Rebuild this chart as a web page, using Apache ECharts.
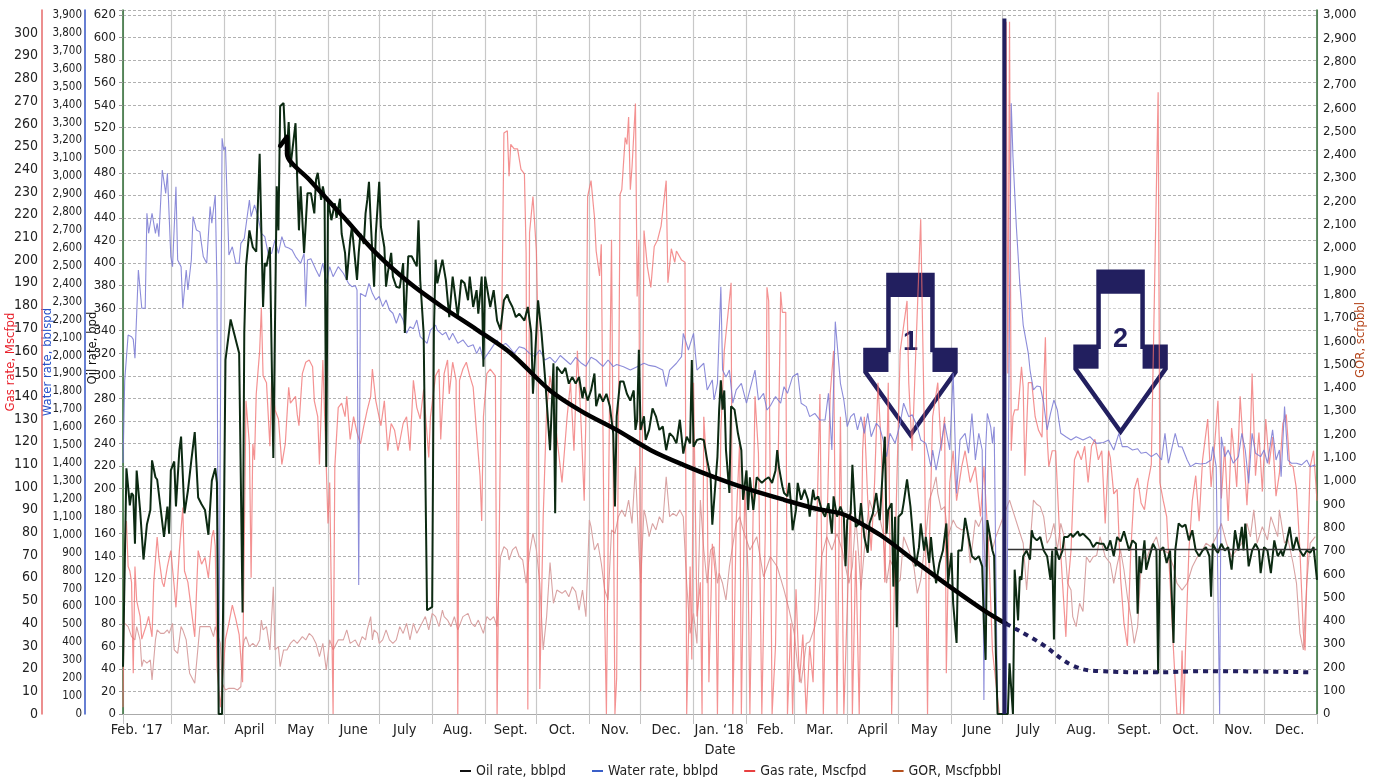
<!DOCTYPE html>
<html><head><meta charset="utf-8">
<script src="https://cdn.jsdelivr.net/npm/echarts/dist/echarts.min.js"></script>
<style>html,body{margin:0;padding:0;background:#fff}#c{width:1377px;height:777px}</style>
</head><body><div id="c"></div><script>
const FONT = "'Liberation Sans Narrow','DejaVu Sans Condensed',sans-serif";
const NAVY = '#221f5f';

// x categories: one per day from 1 Feb 2017 (index 0) to 1 Jan 2019 (index 699)
const monthLabels = ['Feb. \u201817','Mar.','April','May','June','July','Aug.','Sept.','Oct.','Nov.','Dec.',
  'Jan. \u201818','Feb.','Mar.','April','May','June','July','Aug.','Sept.','Oct.','Nov.','Dec.'];

// axis tick values
const oilTicks = {min:0, top:620, step:20};
const waterTicks = {min:0, top:3900, step:100};
const gasTicks = {min:0, top:308, lastLabel:300, step:10};
const gorTicks = {min:0, top:3000, step:100};

// [day index, value]
const oilRate = [[0,42],[2,218],[4,185],[5,196],[6,194],[7,151],[8,216],[10,181],[12,137],[14,168],[16,181],[17,225],[19,210],[20,208],[21,207],[24,157],[26,184],[27,160],[28,216],[30,224],[31,184],[33,234],[34,246],[36,178],[38,198],[40,225],[42,250],[44,192],[46,186],[48,181],[50,159],[52,207],[54,218],[55,205],[56,0],[58,0],[60,314],[63,350],[65,338],[67,326],[68,320],[70,90],[71,338],[72,397],[74,429],[76,414],[78,410],[80,497],[82,361],[83,400],[84,397],[86,414],[88,227],[90,468],[91,429],[92,539],[93,538],[94,542],[95,509],[96,500],[97,525],[98,485],[101,524],[102,474],[103,429],[104,468],[106,409],[108,462],[110,462],[112,444],[113,474],[114,480],[116,456],[117,468],[118,460],[119,219],[120,456],[122,438],[124,453],[125,440],[127,457],[128,426],[130,409],[131,385],[133,420],[134,432],[137,385],[138,409],[139,426],[141,417],[142,444],[143,456],[144,472],[145,438],[147,379],[148,426],[150,472],[151,432],[153,414],[154,379],[155,391],[157,409],[158,388],[160,379],[162,378],[164,400],[165,338],[167,406],[169,406],[172,397],[173,438],[174,385],[176,338],[178,92],[181,95],[182,338],[183,403],[184,382],[187,403],[189,385],[191,352],[193,388],[196,352],[198,385],[200,382],[202,367],[203,388],[205,361],[207,376],[208,355],[210,388],[211,308],[212,388],[215,361],[217,376],[219,349],[221,341],[223,367],[225,372],[226,367],[228,361],[230,352],[232,355],[235,349],[237,361],[239,338],[240,284],[243,367],[245,338],[247,300],[250,234],[252,311],[253,178],[254,308],[257,302],[259,307],[261,293],[263,299],[265,293],[267,299],[269,280],[270,290],[272,278],[274,287],[276,302],[277,273],[279,284],[281,277],[283,284],[285,273],[287,249],[288,184],[289,264],[291,295],[293,295],[295,284],[297,278],[299,287],[300,252],[301,261],[302,323],[303,252],[305,264],[306,243],[308,252],[310,271],[312,264],[314,252],[316,255],[318,234],[320,249],[322,246],[324,240],[326,261],[328,231],[330,246],[332,240],[333,314],[334,237],[336,243],[338,244],[340,243],[342,225],[344,210],[345,168],[347,208],[348,228],[349,270],[350,296],[351,270],[352,287],[353,234],[355,196],[356,273],[358,270],[360,249],[362,234],[363,190],[365,216],[366,181],[367,210],[369,181],[371,210],[374,205],[376,208],[378,210],[380,205],[382,216],[383,234],[384,219],[386,202],[387,196],[389,193],[390,205],[391,187],[392,163],[394,181],[395,205],[397,190],[399,199],[401,190],[402,175],[404,199],[405,190],[407,193],[409,181],[411,175],[413,187],[415,160],[416,193],[418,175],[420,184],[422,175],[423,131],[424,172],[426,178],[427,221],[429,166],[431,169],[432,187],[434,157],[436,143],[437,169],[439,178],[441,196],[443,172],[444,196],[446,246],[447,160],[448,181],[450,187],[451,113],[452,175],[453,77],[454,175],[456,178],[457,187],[459,208],[461,184],[463,148],[464,131],[466,148],[467,169],[469,145],[470,157],[472,134],[473,157],[474,140],[476,116],[478,134],[480,145],[482,169],[483,116],[485,143],[486,98],[488,63],[489,145],[491,145],[493,174],[495,157],[497,140],[499,137],[501,140],[503,131],[504,80],[505,48],[506,172],[507,172],[509,145],[510,140],[511,54],[512,0],[518,0],[519,45],[521,0],[522,128],[524,83],[525,122],[526,119],[527,140],[529,145],[531,137],[532,163],[533,157],[535,154],[537,157],[539,145],[541,140],[543,119],[544,145],[545,66],[546,148],[548,137],[550,145],[551,157],[553,157],[555,160],[556,157],[559,162],[560,158],[562,160],[564,157],[566,154],[568,148],[570,152],[572,151],[574,151],[576,145],[578,154],[580,140],[582,157],[584,153],[586,162],[587,163],[589,145],[591,154],[593,151],[594,89],[595,140],[596,125],[598,154],[599,128],[601,140],[603,151],[605,145],[606,36],[607,145],[609,148],[611,134],[613,145],[615,63],[616,145],[618,169],[620,166],[622,168],[624,154],[626,163],[628,145],[630,140],[632,145],[634,148],[636,140],[637,104],[638,151],[640,145],[641,143],[643,151],[645,145],[647,148],[649,128],[651,163],[653,145],[655,166],[656,145],[657,169],[659,131],[661,145],[663,151],[665,145],[666,125],[668,148],[670,145],[672,125],[674,154],[676,140],[678,145],[679,140],[681,151],[683,166],[685,145],[687,157],[689,145],[691,140],[693,145],[695,143],[697,148],[699,119]];

const waterRate = [[0,1400],[1,1860],[3,2115],[5,2105],[6,2090],[7,1985],[9,2477],[11,2264],[13,2264],[14,2794],[15,2682],[17,2794],[19,2682],[20,2738],[21,2663],[23,3035],[25,2905],[26,3017],[28,2552],[29,2496],[31,2942],[32,2533],[34,2496],[35,2264],[37,2477],[38,2366],[40,2533],[41,2775],[43,2700],[45,2690],[47,2552],[49,2515],[51,2831],[52,2738],[54,2896],[55,2400],[56,0],[57,0],[58,3212],[59,3147],[60,3165],[62,2561],[64,2607],[66,2515],[68,2515],[69,2626],[71,2654],[72,2645],[74,2868],[75,2775],[77,2840],[79,2775],[81,2682],[83,2663],[85,2570],[87,2570],[89,2645],[91,2570],[93,2663],[95,2607],[97,2600],[99,2589],[101,2552],[102,2552],[104,2515],[106,2570],[107,2273],[108,2533],[110,2540],[113,2477],[115,2440],[117,2515],[119,2403],[121,2496],[123,2440],[126,2496],[129,2459],[132,2403],[134,2384],[136,2390],[137,2366],[138,720],[139,2347],[142,2329],[144,2403],[146,2347],[148,2310],[150,2330],[152,2273],[154,2310],[156,2254],[158,2236],[160,2180],[162,2236],[164,2198],[166,2124],[168,2161],[170,2150],[172,2198],[174,2105],[176,2087],[178,2068],[180,2142],[183,2170],[184,2142],[187,2115],[189,2130],[191,2087],[193,2124],[196,2068],[199,2087],[202,2049],[205,2060],[207,2012],[209,2049],[211,1975],[215,2030],[219,2087],[221,2050],[224,2068],[226,2049],[229,2012],[232,2049],[235,2040],[238,2012],[241,1994],[244,2031],[247,1975],[250,1990],[253,1960],[256,2000],[259,1975],[262,1950],[265,1990],[268,1960],[271,1940],[274,1990],[277,1975],[279,1957],[281,1940],[284,1975],[287,1938],[289,1950],[293,1938],[297,1919],[301,1938],[305,1957],[308,1945],[312,1938],[316,1919],[318,1826],[320,1919],[324,1957],[327,1994],[328,2124],[331,2031],[334,2124],[336,1919],[340,1957],[342,1808],[345,1864],[346,1752],[348,1845],[350,2384],[351,1919],[353,1880],[355,1919],[357,1734],[359,1808],[362,1845],[365,1734],[367,1808],[370,1919],[372,1752],[375,1789],[377,1696],[379,1720],[382,1771],[385,1734],[387,1826],[389,1789],[392,1882],[395,1901],[397,1734],[400,1715],[402,1659],[405,1677],[408,1640],[411,1640],[413,1789],[415,1473],[417,2189],[420,1845],[422,1752],[424,1603],[426,1659],[428,1677],[430,1585],[432,1659],[434,1566],[436,1677],[438,1547],[441,1622],[443,1600],[445,1529],[447,1436],[449,1566],[452,1510],[455,1622],[457,1734],[460,1659],[462,1670],[465,1603],[467,1529],[470,1510],[473,1380],[474,1473],[476,1361],[479,1510],[481,1622],[484,1473],[486,1901],[488,1231],[490,1529],[493,1566],[495,1455],[497,1677],[499,1417],[501,1566],[503,1473],[504,78],[505,1473],[506,1677],[508,1600],[509,1510],[510,1603],[512,0],[517,0],[520,3407],[521,3110],[523,2719],[525,2403],[527,2170],[530,2012],[531,1919],[533,1808],[535,1830],[537,1826],[539,1734],[541,1585],[543,1677],[545,1752],[547,1696],[549,1566],[552,1547],[555,1529],[558,1547],[562,1529],[566,1547],[570,1510],[574,1515],[577,1529],[580,1473],[583,1566],[585,1492],[588,1492],[591,1473],[594,1480],[596,1455],[599,1460],[602,1436],[605,1455],[608,1417],[610,1566],[612,1399],[616,1566],[618,1492],[620,1490],[623,1417],[625,1380],[628,1399],[631,1395],[634,1399],[637,1417],[638,1492],[640,1380],[642,0],[643,1547],[645,1436],[647,1473],[650,1399],[653,1436],[655,1566],[657,1473],[659,1287],[661,1566],[663,1455],[666,1436],[668,1473],[670,1399],[673,1585],[675,1417],[677,1473],[678,1324],[680,1715],[682,1417],[684,1399],[687,1399],[690,1390],[693,1417],[695,1380],[698,1390]];

const gasRate = [[0,3],[1,74],[2,85],[3,65],[4,63],[5,58],[6,18],[7,65],[8,50],[10,43],[11,33],[14,40],[15,43],[17,34],[18,58],[20,78],[21,69],[23,58],[24,56],[26,65],[28,72],[30,56],[31,47],[33,72],[35,91],[36,63],[38,58],[40,46],[42,34],[44,72],[46,66],[48,69],[50,60],[52,78],[53,81],[54,74],[55,21],[57,3],[60,33],[62,40],[64,48],[66,42],[68,35],[70,14],[72,138],[74,119],[75,60],[76,119],[77,112],[78,141],[80,160],[81,179],[82,149],[84,146],[86,118],[87,147],[89,134],[91,130],[93,110],[95,119],[97,144],[98,137],[101,140],[102,132],[103,127],[105,150],[107,155],[109,156],[111,153],[112,138],[114,131],[115,110],[117,156],[119,109],[120,84],[121,102],[123,0],[124,109],[126,135],[128,137],[130,131],[131,140],[133,121],[135,131],[137,124],[139,119],[141,127],[143,134],[145,140],[146,152],[148,138],[151,127],[153,138],[155,116],[157,128],[159,125],[161,116],[164,128],[166,131],[168,116],[170,147],[172,135],[174,130],[176,143],[179,113],[180,131],[183,149],[185,152],[186,121],[188,150],[190,156],[191,141],[193,155],[195,147],[196,0],[197,147],[199,152],[201,155],[203,149],[205,144],[207,124],[209,105],[210,85],[211,131],[213,150],[215,152],[218,149],[219,0],[221,124],[223,256],[225,257],[226,237],[227,251],[229,249],[231,249],[233,240],[235,238],[236,203],[237,2],[238,212],[240,228],[242,204],[243,168],[244,11],[246,87],[248,134],[250,149],[252,138],[254,122],[257,102],[260,131],[262,146],[264,116],[266,160],[268,131],[270,94],[271,131],[272,228],[274,235],[276,219],[277,204],[279,193],[280,207],[282,43],[283,0],[285,150],[286,209],[288,0],[289,16],[291,229],[292,231],[294,254],[295,251],[296,263],[297,231],[298,241],[300,269],[301,184],[302,209],[303,10],[305,213],[307,197],[309,188],[311,206],[313,209],[315,215],[318,235],[319,190],[321,205],[323,199],[324,204],[327,200],[329,199],[330,0],[332,65],[333,24],[334,146],[336,43],[338,58],[339,0],[340,131],[342,105],[343,14],[345,75],[347,60],[348,0],[350,125],[352,160],[356,190],[357,0],[359,85],[361,120],[362,0],[364,100],[366,60],[367,0],[370,140],[372,115],[374,0],[376,80],[377,188],[378,182],[380,0],[382,30],[385,186],[386,177],[388,177],[389,0],[391,40],[392,0],[394,55],[396,14],[398,35],[400,0],[402,30],[404,14],[408,141],[410,0],[412,78],[414,141],[416,160],[418,0],[420,131],[422,0],[426,94],[427,0],[429,72],[431,0],[433,116],[434,131],[436,94],[438,72],[440,102],[442,146],[444,116],[446,58],[448,146],[450,0],[452,72],[455,160],[459,182],[460,146],[462,116],[467,218],[469,131],[471,0],[472,72],[474,131],[477,146],[479,116],[481,131],[482,18],[484,102],[486,116],[488,94],[491,109],[493,116],[496,102],[499,109],[502,87],[504,109],[507,69],[509,28],[511,14],[513,0],[516,0],[517,305],[518,150],[519,305],[520,116],[521,131],[522,134],[524,134],[526,153],[527,144],[528,105],[530,146],[532,146],[534,131],[536,125],[538,122],[540,166],[541,122],[542,109],[544,116],[546,116],[548,84],[550,58],[552,34],[553,55],[555,72],[557,112],[559,116],[561,112],[563,118],[565,102],[567,118],[569,121],[571,112],[573,116],[575,84],[577,116],[578,113],[580,97],[582,99],[584,60],[586,40],[588,30],[590,72],[592,99],[594,104],[596,93],[598,90],[600,102],[602,110],[606,274],[607,102],[609,94],[611,87],[613,58],[615,28],[617,0],[619,0],[620,28],[621,0],[622,28],[624,72],[626,94],[628,105],[630,85],[632,112],[635,130],[637,100],[639,118],[641,138],[643,95],[645,118],[647,85],[649,126],[650,119],[652,100],[654,140],[656,116],[658,92],[660,122],[661,150],[663,105],[665,124],[667,98],[669,130],[671,110],[673,122],[675,96],[677,106],[679,128],[681,132],[683,110],[685,109],[687,99],[689,72],[691,36],[692,28],[693,58],[695,109],[697,116],[699,94]];

const gor = [[1,389],[3,375],[5,332],[7,318],[8,375],[10,318],[11,203],[12,232],[14,218],[16,232],[17,146],[19,318],[20,361],[22,346],[24,346],[26,361],[27,346],[29,389],[30,275],[32,260],[34,375],[35,361],[37,318],[39,175],[42,132],[43,124],[45,375],[47,375],[49,375],[51,375],[53,332],[54,375],[57,303],[58,132],[60,103],[62,110],[63,103],[65,110],[67,103],[69,117],[70,275],[71,318],[72,332],[74,289],[76,303],[78,289],[80,318],[81,403],[82,361],[84,375],[86,275],[88,546],[89,275],[91,289],[92,203],[94,275],[96,275],[98,303],[100,318],[102,303],[103,303],[105,332],[107,318],[109,346],[111,332],[113,303],[115,246],[117,303],[119,189],[121,318],[123,275],[126,318],[129,318],[131,361],[133,303],[136,318],[138,289],[140,332],[142,318],[143,361],[145,418],[146,318],[147,361],[149,346],[150,303],[152,318],[154,361],[156,318],[158,303],[160,318],[162,375],[164,346],[166,389],[168,318],[170,389],[172,346],[173,361],[175,389],[177,418],[179,361],[181,432],[183,418],[185,375],[187,446],[188,418],[190,403],[192,375],[194,418],[196,361],[199,418],[202,432],[204,389],[206,375],[208,403],[211,346],[213,418],[215,403],[217,418],[219,375],[221,675],[223,718],[225,704],[226,661],[228,704],[230,718],[232,675],[234,661],[236,561],[238,690],[240,775],[242,704],[244,561],[246,275],[248,418],[250,650],[252,475],[254,532],[257,518],[259,530],[261,503],[263,546],[265,525],[267,446],[269,532],[271,418],[273,833],[274,804],[276,704],[278,733],[280,647],[282,532],[284,489],[286,790],[288,775],[290,847],[292,876],[294,847],[296,918],[298,818],[300,1061],[302,704],[303,561],[305,876],[306,847],[308,761],[310,818],[312,790],[314,847],[316,820],[318,1018],[320,847],[322,861],[324,850],[326,876],[328,847],[330,561],[332,346],[334,432],[336,303],[338,918],[340,704],[342,561],[344,704],[346,718],[348,561],[349,604],[351,561],[353,489],[355,632],[359,818],[361,847],[363,790],[367,704],[371,761],[375,589],[379,675],[383,632],[387,532],[390,446],[393,346],[395,203],[397,132],[400,303],[402,310],[405,375],[407,446],[409,675],[412,761],[415,704],[418,775],[421,704],[425,561],[427,632],[429,847],[431,647],[432,532],[434,704],[437,918],[440,847],[442,876],[445,775],[447,561],[449,661],[451,632],[453,561],[455,575],[457,761],[460,704],[463,632],[465,518],[467,575],[470,761],[472,918],[474,961],[476,1018],[477,947],[479,876],[481,890],[483,761],[486,833],[488,804],[491,790],[494,804],[496,647],[499,833],[501,804],[503,847],[505,632],[507,761],[509,704],[511,761],[519,918],[527,733],[529,532],[533,918],[535,900],[537,890],[539,847],[541,733],[543,760],[545,818],[547,704],[549,818],[551,760],[553,561],[555,532],[556,418],[558,375],[560,475],[562,440],[564,675],[566,650],[568,675],[570,680],[572,761],[575,675],[578,647],[580,561],[582,640],[584,704],[586,618],[588,503],[590,418],[592,303],[594,375],[596,632],[597,675],[599,660],[601,704],[603,733],[605,761],[607,700],[609,704],[612,690],[615,632],[617,561],[620,532],[623,561],[626,632],[629,675],[632,704],[634,733],[637,718],[640,761],[643,818],[646,733],[649,675],[652,704],[655,733],[658,818],[660,760],[662,876],[664,733],[667,804],[670,747],[672,847],[676,761],[677,876],[680,733],[682,750],[685,647],[687,561],[689,346],[691,275],[693,561],[695,733],[698,761]];

// fitted decline (oil units), forecast, post-workover level, event marker
const declineFit = [[92,504],[96,512],[96,497],[109,474],[129,441],[148,409],[168,382],[187,361],[207,341],[227,320],[250,287],[269,268],[289,252],[309,234],[328,221],[348,209],[367,199],[387,190],[406,182],[420,178],[426,174],[445,157],[465,134],[484,113],[504,92],[517,80]];
const forecast = [[517,80],[537,63],[556,43],[572,38],[605,37],[635,38],[695,37]];
const postLevel = [[518,146],[699,146]];
const eventMarker = [[516,0],[516,617]];
const arrowMarks = [{day:461, oil:247.5, label:'1'},{day:584, oil:250.4, label:'2'}];

// ---- build axis helpers ----
const START = Date.UTC(2017,1,1), DAY = 86400000;
const monthStarts = [];
for (let m=0;m<=23;m++) monthStarts.push(Math.round((Date.UTC(2017,1+m,1)-START)/DAY));
const isMonthStart = new Set(monthStarts);
const labelAt = {};
monthLabels.forEach((t,i)=>{const s=monthStarts[i], e=monthStarts[i+1]; const c = i===0 ? s+8 : s+Math.floor((e-s)/2); labelAt[c]=t;});
const dayCats = Array.from({length:700},(_,i)=>String(i));

// plot: grid top is 5px above the top tick value
const PLOT_H = 704, TOPTICK_H = 699;
const ext = t => t.top*PLOT_H/TOPTICK_H;
const fmt = (t, comma) => v => { const r=Math.round(v); const last = t.lastLabel!==undefined ? t.lastLabel : t.top;
  if (Math.abs(v-r)>1e-6 || r%t.step!==0 || r>last) return ''; return comma ? r.toLocaleString('en-US') : String(r); };

const chart = echarts.init(document.getElementById('c'), null, {renderer:'canvas'});
const line = (name, data, yIdx, color, width, z, extra) => Object.assign({
  name, type:'line', data, xAxisIndex:0, yAxisIndex:yIdx, showSymbol:false, symbol:'none',
  z, lineStyle:{color, width}, itemStyle:{color}, emphasis:{disabled:true}, animation:false
}, extra||{});

chart.setOption({
  animation:false,
  backgroundColor:'#fff',
  grid:{left:123, right:60, top:10, bottom:63, containLabel:false, outerBoundsMode:'none'},
  legend:{
    data:['Oil rate, bblpd','Water rate, bblpd','Gas rate, Mscfpd','GOR, Mscfpbbl'],
    left:455, top:759, icon:'rect', itemWidth:11, itemHeight:2, itemGap:26,
    textStyle:{fontFamily:FONT, fontSize:14, color:'#222'}, selectedMode:false
  },
  xAxis:[{
    type:'category', data:dayCats, boundaryGap:false, position:'bottom',
    axisLine:{show:true, lineStyle:{color:'#999', width:1}},
    axisTick:{show:true, interval:(i)=>isMonthStart.has(i), length:10, lineStyle:{color:'#c4c4c4'}},
    splitLine:{show:true, interval:(i)=>isMonthStart.has(i), lineStyle:{color:'#c8c8c8', width:1.2}},
    axisLabel:{interval:(i)=>labelAt[i]!==undefined, formatter:(v,i)=>labelAt[i]||'', color:'#222', fontFamily:FONT, fontSize:14.5, margin:9},
    name:'Date', nameLocation:'middle', nameGap:27, nameTextStyle:{color:'#222', fontFamily:FONT, fontSize:14.5}
  },{
    type:'category', data:dayCats, boundaryGap:false, position:'top',
    axisLine:{show:true, lineStyle:{color:'#aaa', width:1}}, axisTick:{show:false}, axisLabel:{show:false}, splitLine:{show:false}
  }],
  yAxis:[{
    type:'value', position:'left', offset:0, min:oilTicks.min, max:ext(oilTicks), interval:oilTicks.step,
    axisLine:{show:true, lineStyle:{color:'#2e6b33', width:1.5}},
    axisTick:{show:true, length:4, lineStyle:{color:'#999'}},
    axisLabel:{color:'#222', fontFamily:FONT, fontSize:13, margin:7, formatter:fmt(oilTicks,false)},
    splitLine:{show:true, lineStyle:{color:'#b0b0b0', type:[3,2], width:1}},
    name:'Oil rate, bpd', nameLocation:'middle', nameGap:24, nameMoveOverlap:false,
    nameTextStyle:{color:'#111', fontFamily:FONT, fontSize:13, padding:[0,0,0,28]}
  },{
    type:'value', position:'left', offset:38, min:waterTicks.min, max:ext(waterTicks), interval:waterTicks.step,
    axisLine:{show:true, lineStyle:{color:'#3455c4', width:1.5}},
    axisTick:{show:false}, splitLine:{show:false},
    axisLabel:{color:'#222', fontFamily:FONT, fontSize:11.5, margin:3, formatter:fmt(waterTicks,true)},
    name:'Water rate, bblspd', nameLocation:'middle', nameGap:31, nameMoveOverlap:false,
    nameTextStyle:{color:'#2a52c9', fontFamily:FONT, fontSize:13}
  },{
    type:'value', position:'left', offset:81, min:gasTicks.min, max:ext(gasTicks), interval:gasTicks.step,
    axisLine:{show:true, lineStyle:{color:'#e66a6a', width:1.5}},
    axisTick:{show:false}, splitLine:{show:false},
    axisLabel:{color:'#222', fontFamily:FONT, fontSize:14, margin:4, formatter:fmt(gasTicks,false)},
    name:'Gas rate, Mscfpd', nameLocation:'middle', nameGap:25, nameMoveOverlap:false,
    nameTextStyle:{color:'#e8202a', fontFamily:FONT, fontSize:13}
  },{
    type:'value', position:'right', offset:0, min:gorTicks.min, max:ext(gorTicks), interval:gorTicks.step,
    axisLine:{show:true, lineStyle:{color:'#2e6b33', width:1.5}},
    axisTick:{show:false}, splitLine:{show:false},
    axisLabel:{color:'#222', fontFamily:FONT, fontSize:13, margin:6, formatter:fmt(gorTicks,true)},
    name:'GOR, scfpbbl', nameLocation:'middle', nameGap:37, nameMoveOverlap:false,
    nameTextStyle:{color:'#b5451b', fontFamily:FONT, fontSize:13, padding:[0,0,0,44]}
  }],
  series:[
    line('GOR, Mscfpbbl', gor, 3, '#d9a3a3', 1.1, 2, {itemStyle:{color:'#b5501e'}}),
    line('Gas rate, Mscfpd', gasRate, 2, 'rgba(240,110,110,0.75)', 1.2, 3, {itemStyle:{color:'#e84040'}}),
    line('Water rate, bblpd', waterRate, 1, 'rgba(120,120,210,0.85)', 1.1, 4, {itemStyle:{color:'#3a5fc8'}}),
    line('Oil rate, bblpd', oilRate, 0, '#0c2a12', 2, 5, {itemStyle:{color:'#111'}}),
    line('decline', declineFit, 0, '#000', 4.5, 6, {smooth:0.3, lineStyle:{color:'#000', width:4.5, cap:'round', join:'round'}}),
    line('forecast', forecast, 0, NAVY, 4, 6, {smooth:0.4, lineStyle:{color:NAVY, width:4, type:[5,5]}}),
    line('post', postLevel, 0, '#333', 1.5, 6),
    line('event', eventMarker, 0, NAVY, 4, 7)
  ]
});

const arrowGroup = (p, label) => ({
  type:'group', x:p[0], y:p[1], z:100, silent:true,
  children:[
    {type:'polygon', shape:{points:[[-22,-160],[22,-160],[22,-85],[45,-85],[45,-63],[0,0],[-45,-63],[-45,-85],[-22,-85]]},
      style:{fill:'rgba(255,255,255,0.4)', stroke:NAVY, lineWidth:4.5, lineJoin:'miter'}},
    {type:'rect', shape:{x:-22,y:-160,width:44,height:22}, style:{fill:NAVY}},
    {type:'rect', shape:{x:-45,y:-85,width:23,height:22}, style:{fill:NAVY}},
    {type:'rect', shape:{x:22,y:-85,width:23,height:22}, style:{fill:NAVY}},
    {type:'text', x:0, y:-92, style:{text:label, fill:NAVY, font:"bold 27px 'Liberation Sans', 'DejaVu Sans', sans-serif", align:'center', verticalAlign:'middle'}}
  ]
});
const g = arrowMarks.map(a => arrowGroup(chart.convertToPixel({xAxisIndex:0, yAxisIndex:0}, [a.day, a.oil]), a.label));
chart.setOption({graphic:g});
</script></body></html>
